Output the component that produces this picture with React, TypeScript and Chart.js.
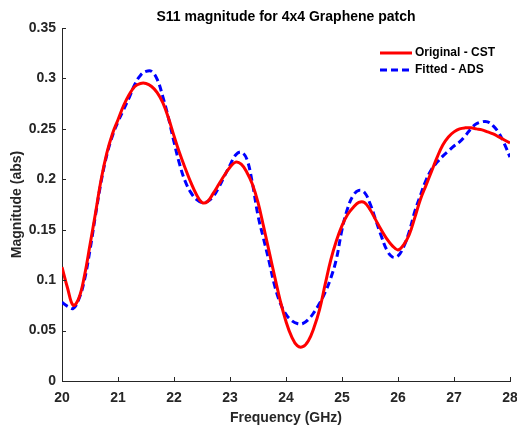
import { useEffect, useRef } from "react";
import { Chart, registerables } from "chart.js";

Chart.register(...registerables);

// Frequency sweep (GHz)
const FREQ_GHZ = [
  20.0, 20.1, 20.2, 20.3, 20.4, 20.5, 20.6, 20.7, 20.8, 20.9,
  21.0, 21.1, 21.2, 21.3, 21.4, 21.5, 21.6, 21.7, 21.8, 21.9,
  22.0, 22.1, 22.2, 22.3, 22.4, 22.5, 22.6, 22.7, 22.8, 22.9,
  23.0, 23.1, 23.2, 23.3, 23.4, 23.5, 23.6, 23.7, 23.8, 23.9,
  24.0, 24.1, 24.2, 24.3, 24.4, 24.5, 24.6, 24.7, 24.8, 24.9,
  25.0, 25.1, 25.2, 25.3, 25.4, 25.5, 25.6, 25.7, 25.8, 25.9,
  26.0, 26.1, 26.2, 26.3, 26.4, 26.5, 26.6, 26.7, 26.8, 26.9,
  27.0, 27.1, 27.2, 27.3, 27.4, 27.5, 27.6, 27.7, 27.8, 27.9,
  28.0,
];

// |S11| simulated in CST
const S11_CST = [
  0.113, 0.092, 0.075, 0.082, 0.104, 0.135, 0.167, 0.200, 0.226, 0.245,
  0.259, 0.273, 0.284, 0.292, 0.295, 0.295, 0.292, 0.286, 0.276, 0.261,
  0.243, 0.226, 0.211, 0.197, 0.185, 0.177, 0.178, 0.186, 0.195, 0.204,
  0.212, 0.217, 0.215, 0.207, 0.195, 0.177, 0.153, 0.128, 0.103, 0.079,
  0.059, 0.044, 0.035, 0.034, 0.040, 0.053, 0.071, 0.096, 0.120, 0.139,
  0.154, 0.165, 0.172, 0.177, 0.177, 0.170, 0.160, 0.150, 0.141, 0.134,
  0.130, 0.135, 0.145, 0.162, 0.180, 0.194, 0.208, 0.222, 0.234, 0.242,
  0.247, 0.250, 0.251, 0.251, 0.250, 0.249, 0.247, 0.245, 0.242, 0.239,
  0.236,
];

// |S11| of the fitted ADS model
const S11_ADS = [
  0.078, 0.074, 0.072, 0.081, 0.100, 0.130, 0.165, 0.198, 0.224, 0.243,
  0.257, 0.269, 0.281, 0.294, 0.303, 0.307, 0.307, 0.299, 0.282, 0.261,
  0.237, 0.215, 0.198, 0.187, 0.180, 0.177, 0.178, 0.183, 0.192, 0.203,
  0.214, 0.224, 0.227, 0.220, 0.196, 0.164, 0.141, 0.118, 0.094, 0.077,
  0.066, 0.060, 0.057, 0.057, 0.061, 0.068, 0.077, 0.088, 0.102, 0.121,
  0.150, 0.171, 0.184, 0.189, 0.187, 0.176, 0.160, 0.144, 0.130, 0.123,
  0.124, 0.133, 0.148, 0.168, 0.184, 0.199, 0.210, 0.217, 0.223, 0.228,
  0.233, 0.237, 0.243, 0.250, 0.255, 0.257, 0.257, 0.253, 0.246, 0.235,
  0.222,
];

const SERIES_LABELS = ["Original - CST", "Fitted - ADS"];
const TITLE = "S11 magnitude for 4x4 Graphene patch";
const X_LABEL = "Frequency (GHz)";
const Y_LABEL = "Magnitude (abs)";

const AXIS_COLOR = "#262626";
const FONT = "Arial, 'Liberation Sans', Helvetica, sans-serif";

const W = 517;
const H = 429;

// Inward tick marks, titles and the legend box
const decorations = {
  id: "decorations",
  afterDraw(chart: any) {
    const { ctx, chartArea, scales } = chart;
    const xs = scales.x;
    const ys = scales.y;
    ctx.save();

    // inward ticks
    ctx.strokeStyle = AXIS_COLOR;
    ctx.lineWidth = 1;
    ctx.beginPath();
    xs.ticks.forEach((t: any) => {
      const px = Math.round(xs.getPixelForValue(t.value)) + 0.5;
      ctx.moveTo(px, chartArea.bottom);
      ctx.lineTo(px, chartArea.bottom - 4);
    });
    ys.ticks.forEach((t: any) => {
      const py = Math.round(ys.getPixelForValue(t.value)) + 0.5;
      ctx.moveTo(chartArea.left, py);
      ctx.lineTo(chartArea.left + 4, py);
    });
    ctx.stroke();

    // title
    ctx.fillStyle = "#000000";
    ctx.font = `bold 14px ${FONT}`;
    ctx.textAlign = "center";
    ctx.textBaseline = "middle";
    ctx.fillText(TITLE, (chartArea.left + chartArea.right) / 2, 17);

    // axis titles
    ctx.fillStyle = AXIS_COLOR;
    ctx.fillText(X_LABEL, (chartArea.left + chartArea.right) / 2, 418);
    ctx.save();
    ctx.translate(17, (chartArea.top + chartArea.bottom) / 2);
    ctx.rotate(-Math.PI / 2);
    ctx.fillText(Y_LABEL, 0, 0);
    ctx.restore();

    // legend
    ctx.font = `bold 12px ${FONT}`;
    ctx.textAlign = "left";
    chart.data.datasets.forEach((ds: any, i: number) => {
      const y = 53 + i * 17;
      ctx.strokeStyle = ds.borderColor;
      ctx.lineWidth = ds.borderWidth;
      ctx.setLineDash(ds.borderDash || []);
      ctx.beginPath();
      ctx.moveTo(380, y);
      ctx.lineTo(412, y);
      ctx.stroke();
      ctx.setLineDash([]);
      ctx.fillStyle = "#000000";
      ctx.fillText(ds.label, 415, y);
    });

    ctx.restore();
  },
};

export default function App() {
  const canvasRef = useRef<HTMLCanvasElement | null>(null);

  useEffect(() => {
    const canvas = canvasRef.current;
    if (!canvas) return;

    const chart = new Chart(canvas, {
      type: "line",
      data: {
        datasets: [
          {
            label: SERIES_LABELS[0],
            data: FREQ_GHZ.map((f, i) => ({ x: f, y: S11_CST[i] })),
            borderColor: "#FF0000",
            borderWidth: 3,
            pointRadius: 0,
            tension: 0.4,
            fill: false,
          },
          {
            label: SERIES_LABELS[1],
            data: FREQ_GHZ.map((f, i) => ({ x: f, y: S11_ADS[i] })),
            borderColor: "#0000FF",
            borderWidth: 3,
            borderDash: [7, 4],
            pointRadius: 0,
            tension: 0.4,
            fill: false,
          },
        ],
      },
      options: {
        responsive: false,
        animation: false,
        devicePixelRatio: 1,
        layout: { padding: { top: 28, right: 7, bottom: 0, left: 0 } },
        plugins: {
          legend: { display: false },
          title: { display: false },
          tooltip: { enabled: false },
        },
        scales: {
          x: {
            type: "linear",
            min: 20,
            max: 28,
            grid: { display: false, drawTicks: false },
            border: { display: true, color: AXIS_COLOR, width: 1 },
            ticks: {
              stepSize: 1,
              padding: 9,
              color: AXIS_COLOR,
              font: { family: FONT, size: 14, weight: "bold" },
              maxRotation: 0,
            },
            afterFit(scale: any) {
              scale.height = 48;
              scale.paddingLeft = 0;
              scale.paddingRight = 0;
            },
          },
          y: {
            type: "linear",
            min: 0,
            max: 0.35,
            grid: { display: false, drawTicks: false },
            border: { display: true, color: AXIS_COLOR, width: 1 },
            ticks: {
              stepSize: 0.05,
              padding: 6,
              color: AXIS_COLOR,
              font: { family: FONT, size: 14, weight: "bold" },
              callback: (v: any) => String(Number(Number(v).toFixed(2))),
            },
            afterFit(scale: any) {
              scale.width = 62;
              scale.paddingTop = 0;
              scale.paddingBottom = 0;
            },
          },
        },
      },
      plugins: [decorations],
    });

    return () => chart.destroy();
  }, []);

  return (
    <div style={{ position: "fixed", left: 0, top: 0, width: W, height: H, background: "#ffffff" }}>
      <canvas ref={canvasRef} width={W} height={H} />
    </div>
  );
}
